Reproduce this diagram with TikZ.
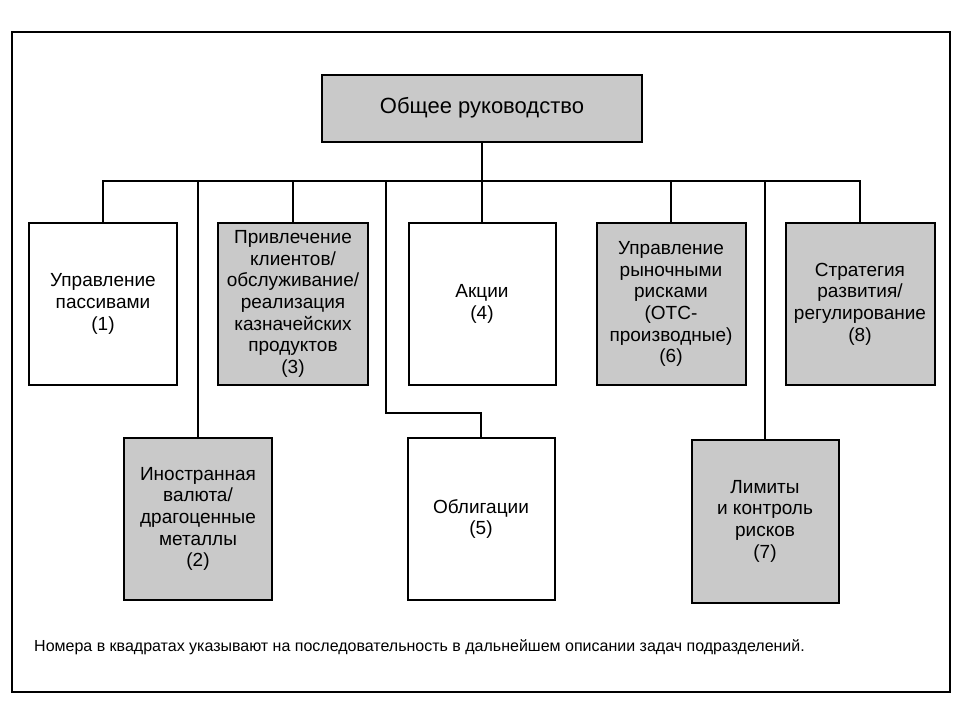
\documentclass[tikz,border=0pt]{standalone}
\usepackage{fontspec}
\setmainfont{Liberation Sans}
\begin{document}
\begin{tikzpicture}[x=1pt,y=-1pt,
  box/.style={draw=black,line width=2pt,minimum width=148pt,minimum height=162pt,
    inner sep=0pt,align=center,font=\fontsize{19}{21.7}\selectfont},
  shaded/.style={box,fill=black!21},
  conn/.style={line width=1.6pt}]
\useasboundingbox (0,0) rectangle (960,720);
\fill[white] (0,0) rectangle (960,720);
\draw[line width=2pt] (12,32) rectangle (950,692);
\node[shaded,minimum width=320pt,minimum height=67pt,font=\fontsize{22}{26}\selectfont] (top) at (482,108) {Общее руководство};
\node[box] (b1) at (103,304) {Управление\\пассивами\\(1)};
\node[shaded,minimum width=150pt] (b3) at (293,304) {Привлечение\\клиентов/\\обслуживание/\\реализация\\казначейских\\продуктов\\(3)};
\node[box,minimum width=147pt] (b4) at (482,304) {Акции\\(4)};
\node[shaded,minimum width=149pt] (b6) at (671,304) {Управление\\рыночными\\рисками\\(ОТС-\\производные)\\(6)};
\node[shaded,minimum width=149pt] (b8) at (860,304) {Стратегия\\развития/\\регулирование\\(8)};
\node[shaded] (b2) at (198,519) {Иностранная\\валюта/\\драгоценные\\металлы\\(2)};
\node[box,minimum width=147pt] (b5) at (481,519) {Облигации\\(5)};
\node[shaded,minimum width=147pt,minimum height=163pt] (b7) at (765,521) {Лимиты\\и контроль\\рисков\\(7)};
\coordinate (bus) at (0,181);
\coordinate (k5) at (386,413);
\draw[conn] (top.south) -- (top.south|-bus) -| (b1.north);
\draw[conn] (top.south|-bus) -| (b8.north);
\draw[conn] (top.south|-bus) -| (b2.north);
\draw[conn] (top.south|-bus) -| (b3.north);
\draw[conn] (top.south|-bus) -| (k5) -| (b5.north);
\draw[conn] (top.south|-bus) -- (b4.north);
\draw[conn] (top.south|-bus) -| (b6.north);
\draw[conn] (top.south|-bus) -| (b7.north);
\node[anchor=base west,inner sep=0pt,font=\fontsize{16}{19}\selectfont] (note) at (34,651) {Номера в квадратах указывают на последовательность в дальнейшем описании задач подразделений.};
\end{tikzpicture}
\end{document}
